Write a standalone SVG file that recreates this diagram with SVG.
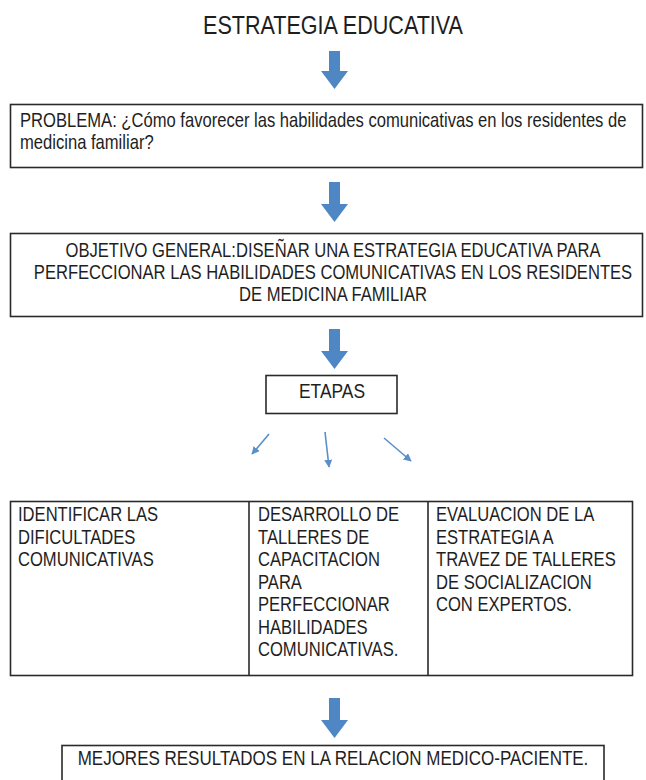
<svg xmlns="http://www.w3.org/2000/svg" width="646" height="780" viewBox="0 0 646 780">
<defs>
<style>
.t{font-family:"Liberation Sans",Arial,sans-serif;font-size:20px;fill:#1e1e1e}
.box{fill:#fff;stroke:#2a2a2a;stroke-width:1.6}
.big{fill:#4F87C5}
.thin{stroke:#5B8FCB;stroke-width:1.6;fill:none}
</style>
<marker id="ah" viewBox="0 0 10 10" refX="9" refY="5" markerWidth="5" markerHeight="5" orient="auto">
<path d="M0,0 L10,5 L0,10 z" fill="#5B8FCB"/>
</marker>
</defs>
<rect width="646" height="780" fill="#fff"/>

<g id="title">
<text class="t" transform="translate(333,34) scale(0.83,1)" text-anchor="middle" style="font-size:26px">ESTRATEGIA EDUCATIVA</text>
</g>

<g id="connectors">
<path class="big" d="M329,51 H340 V71 H348 L334.5,89 L321,71 H329 Z"/>
<path class="big" d="M329,182 H340 V204 H348 L334.5,222 L321,204 H329 Z"/>
<path class="big" d="M329,329 H340 V351 H348 L334.5,369 L321,351 H329 Z"/>
<path class="big" d="M329,698 H340 V720 H348 L334.5,738 L321,720 H329 Z"/>
<line class="thin" x1="269" y1="434" x2="252" y2="454" marker-end="url(#ah)"/>
<line class="thin" x1="325" y1="432" x2="329" y2="467" marker-end="url(#ah)"/>
<line class="thin" x1="384" y1="438" x2="411" y2="461" marker-end="url(#ah)"/>
</g>

<g id="problema">
<rect class="box" x="10.5" y="104.5" width="632" height="63"/>
<text class="t" transform="translate(20,127) scale(0.83,1)">PROBLEMA: ¿Cómo favorecer las habilidades comunicativas en los residentes de</text>
<text class="t" transform="translate(20,149) scale(0.83,1)">medicina familiar?</text>
</g>

<g id="objetivo">
<rect class="box" x="10.5" y="233.5" width="632" height="83"/>
<text class="t" text-anchor="middle" transform="translate(333,257) scale(0.83,1)">OBJETIVO GENERAL:DISEÑAR UNA ESTRATEGIA EDUCATIVA PARA</text>
<text class="t" text-anchor="middle" transform="translate(333,279) scale(0.83,1)">PERFECCIONAR LAS HABILIDADES COMUNICATIVAS EN LOS RESIDENTES</text>
<text class="t" text-anchor="middle" transform="translate(333,301) scale(0.83,1)">DE MEDICINA FAMILIAR</text>
</g>

<g id="etapas">
<rect class="box" x="266" y="375.5" width="131" height="38"/>
<text class="t" text-anchor="middle" transform="translate(332,398) scale(0.87,1)">ETAPAS</text>
</g>

<g id="tabla">
<rect class="box" x="10.5" y="501.5" width="622" height="174"/>
<line x1="249" y1="501.5" x2="249" y2="675.5" stroke="#2a2a2a" stroke-width="1.6"/>
<line x1="428" y1="501.5" x2="428" y2="675.5" stroke="#2a2a2a" stroke-width="1.6"/>
</g>

<g id="etapa1">
<text class="t" transform="translate(18,521) scale(0.83,1)">IDENTIFICAR LAS</text>
<text class="t" transform="translate(18,543.5) scale(0.83,1)">DIFICULTADES</text>
<text class="t" transform="translate(18,566) scale(0.83,1)">COMUNICATIVAS</text>
</g>

<g id="etapa2">
<text class="t" transform="translate(258,521) scale(0.83,1)">DESARROLLO DE</text>
<text class="t" transform="translate(258,543.5) scale(0.83,1)">TALLERES DE</text>
<text class="t" transform="translate(258,566) scale(0.83,1)">CAPACITACION</text>
<text class="t" transform="translate(258,588.5) scale(0.83,1)">PARA</text>
<text class="t" transform="translate(258,611) scale(0.83,1)">PERFECCIONAR</text>
<text class="t" transform="translate(258,633.5) scale(0.83,1)">HABILIDADES</text>
<text class="t" transform="translate(258,656) scale(0.83,1)">COMUNICATIVAS.</text>
</g>

<g id="etapa3">
<text class="t" transform="translate(436,521) scale(0.83,1)">EVALUACION DE LA</text>
<text class="t" transform="translate(436,543.5) scale(0.83,1)">ESTRATEGIA A</text>
<text class="t" transform="translate(436,566) scale(0.83,1)">TRAVEZ DE TALLERES</text>
<text class="t" transform="translate(436,588.5) scale(0.83,1)">DE SOCIALIZACION</text>
<text class="t" transform="translate(436,611) scale(0.83,1)">CON EXPERTOS.</text>
</g>

<g id="resultado">
<rect class="box" x="62" y="745.5" width="542" height="50"/>
<text class="t" text-anchor="middle" transform="translate(333,765) scale(0.85,1)">MEJORES RESULTADOS EN LA RELACION MEDICO-PACIENTE.</text>
</g>
</svg>
